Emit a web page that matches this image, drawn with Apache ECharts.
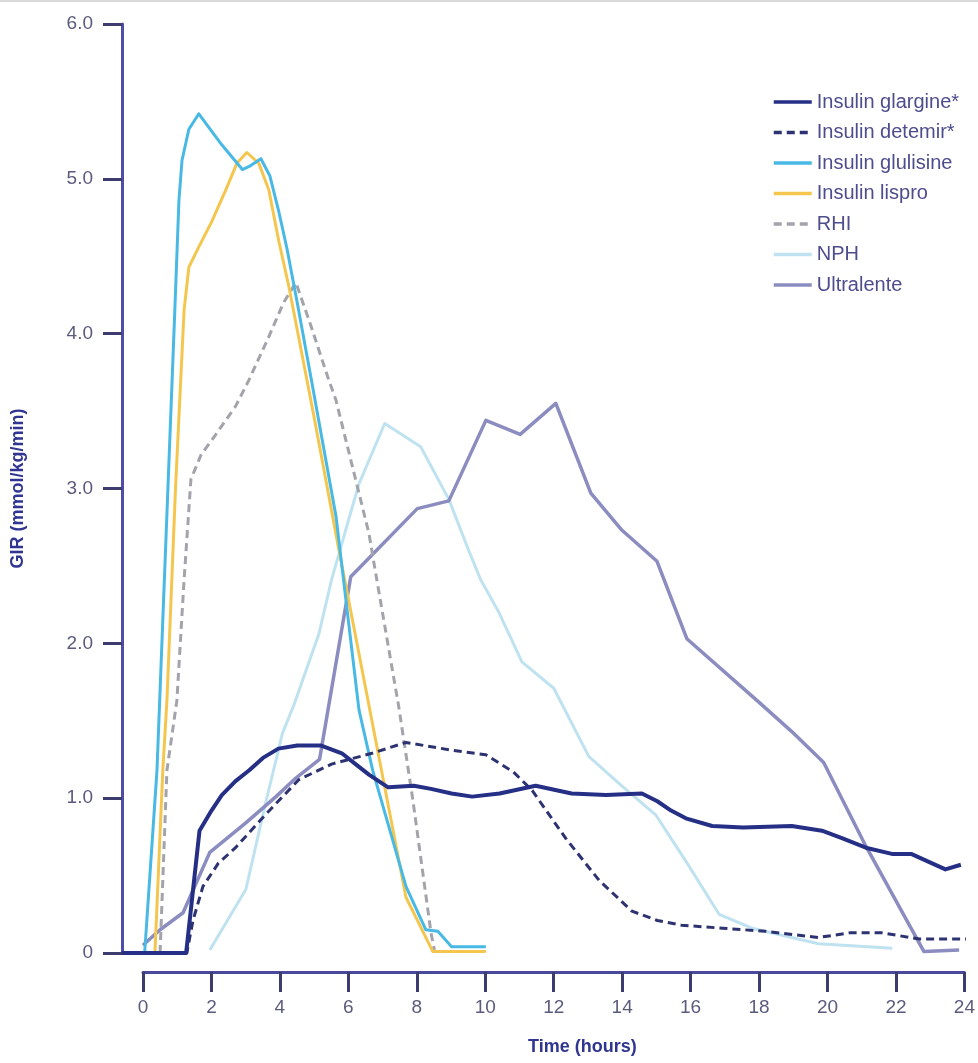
<!DOCTYPE html>
<html>
<head>
<meta charset="utf-8">
<title>GIR profiles</title>
<script src="https://cdn.jsdelivr.net/npm/echarts@6/dist/echarts.min.js"></script>
<style>
  html, body { margin: 0; padding: 0; background: #fff; }
  #main { width: 978px; height: 1063px; }
</style>
</head>
<body>
<div id="main"></div>
<script>
// x axis ticks (hours) / y axis ticks (mmol/kg/min)
var xTicks = [0, 2, 4, 6, 8, 10, 12, 14, 16, 18, 20, 22, 24];
var yTicks = [0, 1, 2, 3, 4, 5, 6];

var seriesNames = ['Insulin glargine*', 'Insulin detemir*', 'Insulin glulisine',
    'Insulin lispro', 'RHI', 'NPH', 'Ultralente'];

// [hours, GIR]
var glargine = [[-0.61, 0], [1.26, 0], [1.65, 0.79], [2.0, 0.92], [2.3, 1.02], [2.7, 1.11], [3.1, 1.18],
    [3.5, 1.26], [3.95, 1.32], [4.5, 1.34], [5.2, 1.34], [5.8, 1.29], [6.2, 1.22], [6.6, 1.15],
    [7.15, 1.07], [7.9, 1.08], [8.4, 1.06], [9.0, 1.03], [9.6, 1.01], [10.4, 1.03], [11.45, 1.08],
    [12.5, 1.03], [13.5, 1.02], [14.55, 1.03], [15.0, 0.98], [15.4, 0.92], [15.83, 0.87], [16.6, 0.82],
    [17.5, 0.81], [18.92, 0.82], [19.8, 0.79], [20.4, 0.74], [21.08, 0.68], [21.84, 0.64],
    [22.4, 0.64], [23.4, 0.54], [23.85, 0.57]];

var detemir = [[-0.3, 0], [1.28, 0], [1.46, 0.21], [1.75, 0.43], [2.2, 0.58], [2.7, 0.68], [3.6, 0.9],
    [4.55, 1.12], [5.5, 1.22], [6.68, 1.29], [7.67, 1.36], [9.0, 1.31], [10.0, 1.28], [10.8, 1.17],
    [11.35, 1.05], [12.33, 0.74], [13.3, 0.47], [14.26, 0.27], [15.0, 0.21], [15.7, 0.18],
    [16.9, 0.16], [18.15, 0.14], [19.7, 0.1], [20.6, 0.13], [21.55, 0.13], [22.65, 0.09], [24, 0.09]];

var glulisine = [[0.05, 0], [0.41, 1.18], [0.93, 4.15], [1.05, 4.86], [1.14, 5.12], [1.34, 5.32],
    [1.63, 5.42], [2.3, 5.22], [2.9, 5.06], [3.1, 5.08], [3.44, 5.13], [3.7, 5.02], [3.95, 4.8],
    [4.2, 4.55], [4.5, 4.2], [4.93, 3.68], [5.63, 2.82], [6.3, 1.57], [6.7, 1.18], [7.67, 0.43],
    [8.25, 0.15], [8.6, 0.14], [9.0, 0.04], [10.0, 0.04]];

var lispro = [[0.35, 0], [0.58, 1.18], [0.7, 1.63], [0.95, 3.0], [1.2, 4.15], [1.34, 4.43], [1.63, 4.56],
    [2.0, 4.72], [2.42, 4.93], [2.74, 5.1], [3.03, 5.17], [3.38, 5.1], [3.67, 4.93], [3.96, 4.6],
    [4.26, 4.3], [5.0, 3.45], [5.7, 2.62], [6.59, 1.6], [7.67, 0.36], [8.45, 0.01], [10.0, 0.01]];

var rhi = [[0.5, 0], [0.7, 1.18], [0.99, 1.63], [1.2, 2.41], [1.4, 3.06], [1.7, 3.22], [2.0, 3.31],
    [2.7, 3.53], [3.09, 3.7], [3.67, 3.98], [4.1, 4.2], [4.46, 4.33], [4.9, 4.05], [5.42, 3.7],
    [5.63, 3.57], [6.2, 3.06], [6.59, 2.71], [6.82, 2.41], [7.46, 1.59], [7.87, 0.99], [8.4, 0.13],
    [8.5, 0.02]];

var nph = [[1.95, 0.02], [3.0, 0.41], [3.6, 0.99], [4.07, 1.42], [4.4, 1.6], [5.13, 2.06], [5.5, 2.41],
    [6.0, 2.8], [6.3, 3.03], [7.05, 3.42], [8.1, 3.27], [8.92, 2.93], [9.5, 2.6], [9.85, 2.41],
    [10.38, 2.2], [11.05, 1.88], [11.98, 1.71], [13.0, 1.27], [13.96, 1.08], [14.96, 0.89],
    [15.84, 0.59], [16.8, 0.25], [17.76, 0.16], [19.7, 0.06], [21.85, 0.03]];

var ultralente = [[0, 0.05], [0.5, 0.15], [1.17, 0.26], [1.95, 0.65], [3.0, 0.84], [3.88, 1.01],
    [4.46, 1.13], [5.15, 1.25], [6.06, 2.43], [8.0, 2.87], [8.92, 2.92], [10.0, 3.44], [11.0, 3.35],
    [12.04, 3.55], [13.06, 2.97], [13.97, 2.73], [14.99, 2.53], [15.86, 2.03], [17.96, 1.62],
    [18.92, 1.43], [19.85, 1.23], [21.08, 0.69], [22.77, 0.01], [23.8, 0.02]];

var font = '"Liberation Sans Narrow", "Liberation Sans", Arial, sans-serif';

function line(name, data, color, width, dashed, z) {
    return {
        name: name,
        type: 'line',
        data: data,
        symbol: 'none',
        z: z,
        lineStyle: { color: color, width: width, type: dashed ? [8, 5] : 'solid', cap: 'butt', join: 'round' },
        itemStyle: { color: color }
    };
}

var chart = echarts.init(document.getElementById('main'));

chart.setOption({
    backgroundColor: '#ffffff',
    animation: false,
    textStyle: { fontFamily: font },
    grid: [
        // plot area: y axis at x=122, 0 at y=953
        { left: 122, right: 12, top: 24, bottom: 110 },
        // detached x axis, drawn below the plot
        { left: 143, right: 12, top: 960, bottom: 91 }
    ],
    legend: {
        orient: 'vertical',
        left: 767,
        top: 87,
        itemWidth: 38,
        itemHeight: 14,
        itemGap: 10.5,
        data: seriesNames,
        itemStyle: { opacity: 0 },   // line only, no marker dot
        lineStyle: { width: 3.5 },
        textStyle: { color: '#4d4d8e', fontSize: 20, lineHeight: 20, fontFamily: font }
    },
    xAxis: [
        { gridIndex: 0, type: 'value', min: -0.61, max: 24, show: false },
        {
            gridIndex: 1, type: 'value', min: xTicks[0], max: xTicks[xTicks.length - 1], interval: 2,
            position: 'bottom',
            axisLine: { show: true, onZero: false, lineStyle: { color: '#4a4a9c', width: 3 } },
            axisTick: { show: true, inside: false, length: 20, lineStyle: { color: '#3c3d6e', width: 3 } },
            splitLine: { show: false },
            axisLabel: { margin: 26, color: '#5b5b7e', fontSize: 19, fontFamily: font }
        }
    ],
    yAxis: [
        {
            gridIndex: 0, type: 'value', min: yTicks[0], max: yTicks[yTicks.length - 1], interval: 1,
            name: 'GIR (mmol/kg/min)',
            nameLocation: 'middle',
            nameGap: 95,
            nameTextStyle: { color: '#2f3590', fontSize: 18, fontWeight: 'bold', fontFamily: font },
            axisLine: { show: true, onZero: false, lineStyle: { color: '#4e4ea8', width: 3 } },
            axisTick: { show: true, inside: false, length: 19, lineStyle: { color: '#3c3d6e', width: 3 } },
            splitLine: { show: false },
            axisLabel: {
                margin: 29, color: '#5b5b7e', fontSize: 19, fontFamily: font,
                formatter: function (v) { return v === 0 ? '0' : v.toFixed(1); }
            }
        },
        { gridIndex: 1, type: 'value', show: false }
    ],
    graphic: [
        // thin grey frame line along the top edge
        { type: 'rect', left: 0, top: 0, shape: { width: 978, height: 2 }, style: { fill: '#d9d9d9' } },
        {
            type: 'text', left: 528, top: 1038,
            style: { text: 'Time (hours)', fill: '#2f3590', font: 'bold 18px ' + font }
        }
    ],
    series: [
        line('NPH', nph, '#bfe2f0', 3, false, 2),
        line('Ultralente', ultralente, '#8b8cc0', 3.5, false, 3),
        line('RHI', rhi, '#a3a3ab', 3, true, 4),
        line('Insulin lispro', lispro, '#f5c64d', 3, false, 5),
        line('Insulin glulisine', glulisine, '#48b9e4', 3, false, 6),
        line('Insulin detemir*', detemir, '#2d3370', 3, true, 7),
        line('Insulin glargine*', glargine, '#252f86', 4, false, 8)
    ]
});
</script>
</body>
</html>
